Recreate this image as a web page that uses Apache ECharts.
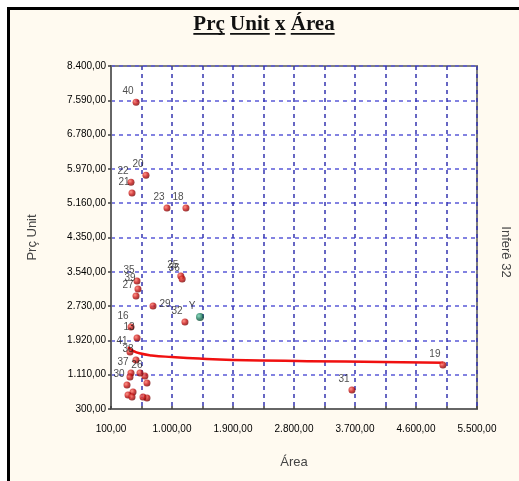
<!DOCTYPE html>
<html>
<head>
<meta charset="utf-8">
<script src="https://cdn.jsdelivr.net/npm/echarts@6/dist/echarts.min.js"></script>
<style>
html,body{margin:0;padding:0;background:#fff;}
#chart{width:519px;height:481px;}
</style>
</head>
<body>
<div id="chart"></div>
<script>
// ---- data ----
var pointLabels = ['40','20','22','21','23','18','25','36','35','39','27','29','32','16','13','41','38','37','26','30','','','','','','','','','31','19'];
var areaValues  = [470, 616, 395, 410, 926, 1206, 1130, 1150, 484, 498, 469, 720, 1191, 395, 484, 380, 469, 395, 600, 336, 380, 631, 425, 351, 410, 631, 572, 528, 3655, 4997];
var precoValues = [7545, 5822, 5657, 5398, 5044, 5044, 3440, 3368, 3321, 3132, 2967, 2731, 2353, 2235, 1976, 1645, 1456, 1150, 1079, 866, 1055, 914, 701, 630, 583, 560, 583, 1150, 748, 1338];
var subjectLabel = 'Y';
var subjectArea = [1413];
var subjectPreco = [2471];
var curveArea  = [350, 420, 520, 700, 1000, 1400, 1900, 3000, 4100, 5000];
var curvePreco = [1760, 1680, 1615, 1565, 1527, 1490, 1460, 1430, 1410, 1390];
var xLabelTicks = [100, 1000, 1900, 2800, 3700, 4600, 5500];
var xGridTicks  = [100, 550, 1000, 1450, 1900, 2350, 2800, 3250, 3700, 4150, 4600, 5050, 5500];
var yTicks = [300, 1110, 1920, 2730, 3540, 4350, 5160, 5970, 6780, 7590, 8400];
var titleWords = ['Prç', 'Unit', 'x', 'Área'];
var xName = 'Área';
var yName = 'Prç Unit';
var rightNote = 'Inferê 32';

function fmt(v) {
  var neg = v < 0; v = Math.abs(v);
  var s = v.toFixed(2).split('.');
  var i = s[0].replace(/\B(?=(\d{3})+(?!\d))/g, '.');
  return (neg ? '-' : '') + i + ',' + s[1];
}

var labelRight = {'29': true};

var scatterData = areaValues.map(function (x, i) {
  var lab = pointLabels[i];
  var d = { value: [x, precoValues[i]], name: lab };
  if (labelRight[lab]) {
    d.label = { position: 'right', distance: 3, offset: [0, -2] };
  }
  return d;
});

var curveData = curveArea.map(function (x, i) { return [x, curvePreco[i]]; });
var subjectData = subjectArea.map(function (x, i) { return { value: [x, subjectPreco[i]], name: subjectLabel }; });

var chart = echarts.init(document.getElementById('chart'), null, { renderer: 'canvas' });

// title word measurement for per-word underline
var cv = document.createElement('canvas').getContext('2d');
var titleFont = 'bold 21px "Liberation Serif", "Times New Roman", serif';
cv.font = titleFont;
var spaceW = cv.measureText(' ').width;
var widths = titleWords.map(function (w) { return cv.measureText(w).width; });
var totalW = widths.reduce(function (a, b) { return a + b; }, 0) + spaceW * (titleWords.length - 1);
var cx = 264, x0 = cx - totalW / 2;
var titleEls = [];
titleWords.forEach(function (w, i) {
  titleEls.push({
    type: 'text', left: x0, top: 14,
    style: { text: w, font: titleFont, fill: '#111' }
  });
  titleEls.push({
    type: 'rect', shape: { x: x0, y: 33, width: widths[i], height: 1.8 },
    style: { fill: '#111' }
  });
  x0 += widths[i] + spaceW;
});

var markerRed = new echarts.graphic.RadialGradient(0.35, 0.35, 0.75, [
  { offset: 0, color: '#ff7a6a' },
  { offset: 0.5, color: '#c81414' },
  { offset: 1, color: '#640000' }
]);
var markerGreen = new echarts.graphic.RadialGradient(0.35, 0.35, 0.75, [
  { offset: 0, color: '#6fd0b0' },
  { offset: 0.5, color: '#1d7a5a' },
  { offset: 1, color: '#073a28' }
]);

var option = {
  backgroundColor: '#ffffff',
  animation: false,
  graphic: [
    { type: 'rect', shape: { x: 10, y: 10, width: 509, height: 471 }, style: { fill: '#fffaf0' }, z: -10 },
    { type: 'polyline', shape: { points: [[8.5, 481], [8.5, 8.5], [519, 8.5]] }, style: { stroke: '#000', lineWidth: 3, fill: null }, z: 10 },
    {
      type: 'text', x: 506, y: 252, rotation: -Math.PI / 2,
      style: { text: rightNote, font: '13px "Liberation Sans", Arial, sans-serif', fill: '#444', align: 'center', verticalAlign: 'middle' }
    }
  ].concat(titleEls),
  grid: {
    left: 111, top: 66, right: 42, bottom: 72,
    show: true, backgroundColor: '#ffffff', borderColor: '#808080', borderWidth: 2
  },
  xAxis: {
    type: 'value', min: 100, max: 5500,
    name: xName, nameLocation: 'middle', nameGap: 47,
    nameTextStyle: { fontSize: 13, color: '#444', fontFamily: '"Liberation Sans", Arial, sans-serif' },
    axisLine: { show: true, lineStyle: { color: '#666666', width: 2 } },
    axisTick: { show: true, inside: true, length: 3, customValues: xGridTicks, lineStyle: { color: '#404040', width: 1.5 } },
    axisLabel: {
      customValues: xLabelTicks, margin: 15, fontSize: 10, color: '#000',
      fontFamily: '"Liberation Sans", Arial, sans-serif', formatter: fmt
    },
    splitLine: { show: true, lineStyle: { color: '#3434b0', type: [4, 4], width: 1.5 } }
  },
  yAxis: {
    type: 'value', min: 300, max: 8400,
    name: yName, nameLocation: 'middle', nameGap: 72,
    nameTextStyle: { fontSize: 13, color: '#444', fontFamily: '"Liberation Sans", Arial, sans-serif' },
    axisLine: { show: true, lineStyle: { color: '#666666', width: 2 } },
    axisTick: { show: true, length: 3, customValues: yTicks, lineStyle: { color: '#404040', width: 1.5 } },
    axisLabel: {
      customValues: yTicks, margin: 5, fontSize: 10, color: '#000',
      fontFamily: '"Liberation Sans", Arial, sans-serif', formatter: fmt
    },
    splitLine: { show: true, lineStyle: { color: '#5a5ad8', type: [4, 4], width: 1.5 } }
  },
  series: [
    {
      type: 'line', data: curveData, smooth: true, showSymbol: false, z: 2,
      lineStyle: { color: '#f01010', width: 2.5 }, silent: true
    },
    {
      type: 'scatter', data: scatterData, symbol: 'circle', symbolSize: 7, z: 3,
      itemStyle: { color: markerRed },
      label: {
        show: true, position: 'top', distance: 2, offset: [-8, 0],
        formatter: function (p) { return p.name; },
        fontSize: 10, color: '#222', fontFamily: '"Liberation Sans", Arial, sans-serif'
      }
    },
    {
      type: 'scatter', data: subjectData, symbol: 'circle', symbolSize: 8, z: 4,
      itemStyle: { color: markerGreen },
      label: {
        show: true, position: 'top', distance: 2, offset: [-8, 0],
        formatter: function (p) { return p.name; },
        fontSize: 10, color: '#222', fontFamily: '"Liberation Sans", Arial, sans-serif'
      }
    }
  ]
};
chart.setOption(option);
</script>
</body>
</html>
